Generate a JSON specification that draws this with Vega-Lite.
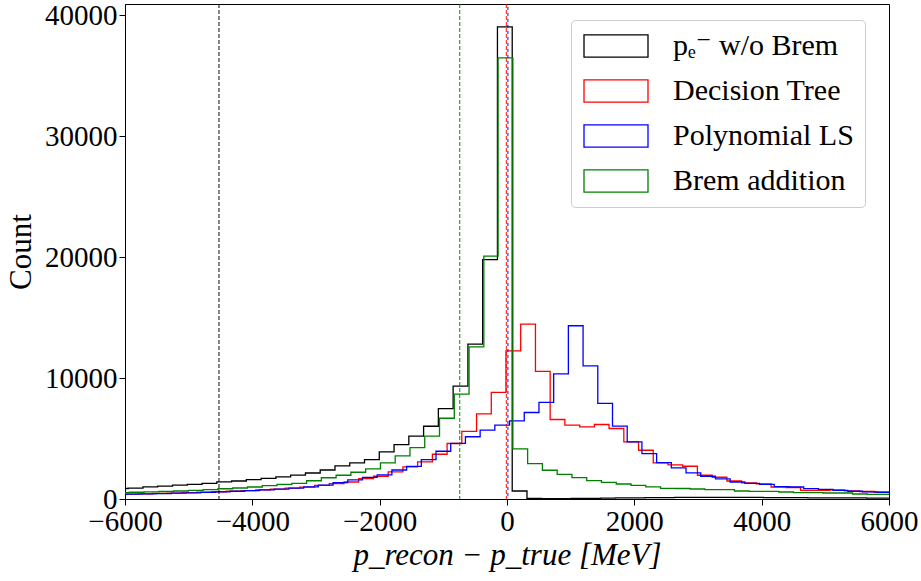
{
  "$schema": "https://vega.github.io/schema/vega-lite/v6.json",
  "width": 764,
  "height": 495,
  "autosize": {"type": "none"},
  "padding": {"left": 125, "top": 4, "right": 32, "bottom": 82},
  "background": "white",
  "config": {
    "view": {"stroke": "black", "strokeWidth": 1},
    "font": "Liberation Serif",
    "axis": {
      "grid": false,
      "domainColor": "black",
      "tickColor": "black",
      "labelColor": "black",
      "titleColor": "black",
      "labelFont": "Liberation Serif",
      "titleFont": "Liberation Serif",
      "labelFontSize": 29,
      "titleFontSize": 31,
      "titleFontWeight": "normal",
      "tickSize": 6
    },
    "legend": {
      "labelFont": "Liberation Serif, DejaVu Serif, serif",
      "labelFontSize": 30,
      "labelColor": "black",
      "labelLimit": 400
    }
  },
  "datasets": {
    "hist": [
      {"series": "pₑ⁻ w/o Brem", "x": -6182, "count": 870},
      {"series": "pₑ⁻ w/o Brem", "x": -5950, "count": 900},
      {"series": "pₑ⁻ w/o Brem", "x": -5718, "count": 1000},
      {"series": "pₑ⁻ w/o Brem", "x": -5486, "count": 1060},
      {"series": "pₑ⁻ w/o Brem", "x": -5254, "count": 1150},
      {"series": "pₑ⁻ w/o Brem", "x": -5022, "count": 1210},
      {"series": "pₑ⁻ w/o Brem", "x": -4790, "count": 1300},
      {"series": "pₑ⁻ w/o Brem", "x": -4558, "count": 1420},
      {"series": "pₑ⁻ w/o Brem", "x": -4326, "count": 1490},
      {"series": "pₑ⁻ w/o Brem", "x": -4094, "count": 1600},
      {"series": "pₑ⁻ w/o Brem", "x": -3862, "count": 1700},
      {"series": "pₑ⁻ w/o Brem", "x": -3630, "count": 1830},
      {"series": "pₑ⁻ w/o Brem", "x": -3398, "count": 1980},
      {"series": "pₑ⁻ w/o Brem", "x": -3166, "count": 2150},
      {"series": "pₑ⁻ w/o Brem", "x": -2934, "count": 2400},
      {"series": "pₑ⁻ w/o Brem", "x": -2702, "count": 2740},
      {"series": "pₑ⁻ w/o Brem", "x": -2470, "count": 2990},
      {"series": "pₑ⁻ w/o Brem", "x": -2238, "count": 3260},
      {"series": "pₑ⁻ w/o Brem", "x": -2006, "count": 3900},
      {"series": "pₑ⁻ w/o Brem", "x": -1774, "count": 4500},
      {"series": "pₑ⁻ w/o Brem", "x": -1542, "count": 5200},
      {"series": "pₑ⁻ w/o Brem", "x": -1310, "count": 6020},
      {"series": "pₑ⁻ w/o Brem", "x": -1078, "count": 7480},
      {"series": "pₑ⁻ w/o Brem", "x": -846, "count": 9340},
      {"series": "pₑ⁻ w/o Brem", "x": -614, "count": 12820},
      {"series": "pₑ⁻ w/o Brem", "x": -382, "count": 19800},
      {"series": "pₑ⁻ w/o Brem", "x": -150, "count": 39050},
      {"series": "pₑ⁻ w/o Brem", "x": 82, "count": 660},
      {"series": "pₑ⁻ w/o Brem", "x": 314, "count": 40},
      {"series": "pₑ⁻ w/o Brem", "x": 546, "count": 20},
      {"series": "pₑ⁻ w/o Brem", "x": 778, "count": 30},
      {"series": "pₑ⁻ w/o Brem", "x": 1010, "count": 50},
      {"series": "pₑ⁻ w/o Brem", "x": 1242, "count": 60},
      {"series": "pₑ⁻ w/o Brem", "x": 1474, "count": 70},
      {"series": "pₑ⁻ w/o Brem", "x": 1706, "count": 90},
      {"series": "pₑ⁻ w/o Brem", "x": 1938, "count": 100},
      {"series": "pₑ⁻ w/o Brem", "x": 2170, "count": 110},
      {"series": "pₑ⁻ w/o Brem", "x": 2402, "count": 120},
      {"series": "pₑ⁻ w/o Brem", "x": 2634, "count": 130},
      {"series": "pₑ⁻ w/o Brem", "x": 2866, "count": 140},
      {"series": "pₑ⁻ w/o Brem", "x": 3098, "count": 140},
      {"series": "pₑ⁻ w/o Brem", "x": 3330, "count": 140},
      {"series": "pₑ⁻ w/o Brem", "x": 3562, "count": 130},
      {"series": "pₑ⁻ w/o Brem", "x": 3794, "count": 130},
      {"series": "pₑ⁻ w/o Brem", "x": 4026, "count": 120},
      {"series": "pₑ⁻ w/o Brem", "x": 4258, "count": 120},
      {"series": "pₑ⁻ w/o Brem", "x": 4490, "count": 110},
      {"series": "pₑ⁻ w/o Brem", "x": 4722, "count": 100},
      {"series": "pₑ⁻ w/o Brem", "x": 4954, "count": 100},
      {"series": "pₑ⁻ w/o Brem", "x": 5186, "count": 90},
      {"series": "pₑ⁻ w/o Brem", "x": 5418, "count": 90},
      {"series": "pₑ⁻ w/o Brem", "x": 5650, "count": 80},
      {"series": "pₑ⁻ w/o Brem", "x": 5882, "count": 80},
      {"series": "pₑ⁻ w/o Brem", "x": 6114, "count": 80},

      {"series": "Decision Tree", "x": -6030, "count": 410},
      {"series": "Decision Tree", "x": -5798, "count": 430},
      {"series": "Decision Tree", "x": -5567, "count": 460},
      {"series": "Decision Tree", "x": -5336, "count": 490},
      {"series": "Decision Tree", "x": -5104, "count": 520},
      {"series": "Decision Tree", "x": -4873, "count": 560},
      {"series": "Decision Tree", "x": -4642, "count": 600},
      {"series": "Decision Tree", "x": -4410, "count": 650},
      {"series": "Decision Tree", "x": -4179, "count": 700},
      {"series": "Decision Tree", "x": -3948, "count": 760},
      {"series": "Decision Tree", "x": -3716, "count": 820},
      {"series": "Decision Tree", "x": -3485, "count": 900},
      {"series": "Decision Tree", "x": -3254, "count": 990},
      {"series": "Decision Tree", "x": -3022, "count": 1120},
      {"series": "Decision Tree", "x": -2791, "count": 1276},
      {"series": "Decision Tree", "x": -2560, "count": 1408},
      {"series": "Decision Tree", "x": -2329, "count": 1690},
      {"series": "Decision Tree", "x": -2097, "count": 1881},
      {"series": "Decision Tree", "x": -1866, "count": 2237},
      {"series": "Decision Tree", "x": -1635, "count": 2651},
      {"series": "Decision Tree", "x": -1404, "count": 3066},
      {"series": "Decision Tree", "x": -1172, "count": 3703},
      {"series": "Decision Tree", "x": -941, "count": 4590},
      {"series": "Decision Tree", "x": -710, "count": 5600},
      {"series": "Decision Tree", "x": -478, "count": 7050},
      {"series": "Decision Tree", "x": -247, "count": 8815},
      {"series": "Decision Tree", "x": -16, "count": 12262},
      {"series": "Decision Tree", "x": 215, "count": 14474},
      {"series": "Decision Tree", "x": 447, "count": 10555},
      {"series": "Decision Tree", "x": 678, "count": 6578},
      {"series": "Decision Tree", "x": 909, "count": 6106},
      {"series": "Decision Tree", "x": 1141, "count": 5965},
      {"series": "Decision Tree", "x": 1372, "count": 6164},
      {"series": "Decision Tree", "x": 1603, "count": 5833},
      {"series": "Decision Tree", "x": 1835, "count": 4722},
      {"series": "Decision Tree", "x": 2066, "count": 4035},
      {"series": "Decision Tree", "x": 2297, "count": 2983},
      {"series": "Decision Tree", "x": 2529, "count": 2820},
      {"series": "Decision Tree", "x": 2760, "count": 2709},
      {"series": "Decision Tree", "x": 2991, "count": 1963},
      {"series": "Decision Tree", "x": 3223, "count": 1800},
      {"series": "Decision Tree", "x": 3454, "count": 1491},
      {"series": "Decision Tree", "x": 3685, "count": 1340},
      {"series": "Decision Tree", "x": 3917, "count": 1250},
      {"series": "Decision Tree", "x": 4148, "count": 994},
      {"series": "Decision Tree", "x": 4379, "count": 950},
      {"series": "Decision Tree", "x": 4611, "count": 720},
      {"series": "Decision Tree", "x": 4842, "count": 720},
      {"series": "Decision Tree", "x": 5073, "count": 760},
      {"series": "Decision Tree", "x": 5305, "count": 670},
      {"series": "Decision Tree", "x": 5536, "count": 620},
      {"series": "Decision Tree", "x": 5767, "count": 560},
      {"series": "Decision Tree", "x": 5998, "count": 520},
      {"series": "Decision Tree", "x": 6229, "count": 520},

      {"series": "Polynomial LS", "x": -6197, "count": 390},
      {"series": "Polynomial LS", "x": -5966, "count": 410},
      {"series": "Polynomial LS", "x": -5735, "count": 430},
      {"series": "Polynomial LS", "x": -5504, "count": 450},
      {"series": "Polynomial LS", "x": -5273, "count": 480},
      {"series": "Polynomial LS", "x": -5042, "count": 510},
      {"series": "Polynomial LS", "x": -4811, "count": 550},
      {"series": "Polynomial LS", "x": -4580, "count": 590},
      {"series": "Polynomial LS", "x": -4349, "count": 640},
      {"series": "Polynomial LS", "x": -4118, "count": 690},
      {"series": "Polynomial LS", "x": -3887, "count": 750},
      {"series": "Polynomial LS", "x": -3656, "count": 820},
      {"series": "Polynomial LS", "x": -3425, "count": 900},
      {"series": "Polynomial LS", "x": -3194, "count": 1000},
      {"series": "Polynomial LS", "x": -2963, "count": 1150},
      {"series": "Polynomial LS", "x": -2732, "count": 1350},
      {"series": "Polynomial LS", "x": -2501, "count": 1580},
      {"series": "Polynomial LS", "x": -2270, "count": 1790},
      {"series": "Polynomial LS", "x": -2039, "count": 2000},
      {"series": "Polynomial LS", "x": -1808, "count": 2400},
      {"series": "Polynomial LS", "x": -1577, "count": 2700},
      {"series": "Polynomial LS", "x": -1346, "count": 3250},
      {"series": "Polynomial LS", "x": -1115, "count": 3950},
      {"series": "Polynomial LS", "x": -884, "count": 4600},
      {"series": "Polynomial LS", "x": -653, "count": 5150},
      {"series": "Polynomial LS", "x": -422, "count": 5692},
      {"series": "Polynomial LS", "x": -191, "count": 6106},
      {"series": "Polynomial LS", "x": 40, "count": 6462},
      {"series": "Polynomial LS", "x": 271, "count": 7158},
      {"series": "Polynomial LS", "x": 502, "count": 7987},
      {"series": "Polynomial LS", "x": 733, "count": 10356},
      {"series": "Polynomial LS", "x": 964, "count": 14333},
      {"series": "Polynomial LS", "x": 1195, "count": 11019},
      {"series": "Polynomial LS", "x": 1426, "count": 7904},
      {"series": "Polynomial LS", "x": 1657, "count": 6023},
      {"series": "Polynomial LS", "x": 1888, "count": 4722},
      {"series": "Polynomial LS", "x": 2119, "count": 3761},
      {"series": "Polynomial LS", "x": 2350, "count": 3016},
      {"series": "Polynomial LS", "x": 2581, "count": 2568},
      {"series": "Polynomial LS", "x": 2812, "count": 2154},
      {"series": "Polynomial LS", "x": 3043, "count": 1881},
      {"series": "Polynomial LS", "x": 3274, "count": 1660},
      {"series": "Polynomial LS", "x": 3505, "count": 1408},
      {"series": "Polynomial LS", "x": 3736, "count": 1300},
      {"series": "Polynomial LS", "x": 3967, "count": 1218},
      {"series": "Polynomial LS", "x": 4198, "count": 1020},
      {"series": "Polynomial LS", "x": 4429, "count": 994},
      {"series": "Polynomial LS", "x": 4660, "count": 860},
      {"series": "Polynomial LS", "x": 4891, "count": 800},
      {"series": "Polynomial LS", "x": 5122, "count": 720},
      {"series": "Polynomial LS", "x": 5353, "count": 640},
      {"series": "Polynomial LS", "x": 5584, "count": 590},
      {"series": "Polynomial LS", "x": 5815, "count": 560},
      {"series": "Polynomial LS", "x": 6046, "count": 560},

      {"series": "Brem addition", "x": -6164, "count": 530},
      {"series": "Brem addition", "x": -5932, "count": 560},
      {"series": "Brem addition", "x": -5700, "count": 590},
      {"series": "Brem addition", "x": -5468, "count": 620},
      {"series": "Brem addition", "x": -5236, "count": 663},
      {"series": "Brem addition", "x": -5004, "count": 720},
      {"series": "Brem addition", "x": -4772, "count": 779},
      {"series": "Brem addition", "x": -4540, "count": 850},
      {"series": "Brem addition", "x": -4308, "count": 911},
      {"series": "Brem addition", "x": -4076, "count": 994},
      {"series": "Brem addition", "x": -3844, "count": 1110},
      {"series": "Brem addition", "x": -3612, "count": 1218},
      {"series": "Brem addition", "x": -3380, "count": 1300},
      {"series": "Brem addition", "x": -3148, "count": 1510},
      {"series": "Brem addition", "x": -2916, "count": 1760},
      {"series": "Brem addition", "x": -2684, "count": 1963},
      {"series": "Brem addition", "x": -2452, "count": 2212},
      {"series": "Brem addition", "x": -2220, "count": 2486},
      {"series": "Brem addition", "x": -1988, "count": 2983},
      {"series": "Brem addition", "x": -1756, "count": 3563},
      {"series": "Brem addition", "x": -1524, "count": 4258},
      {"series": "Brem addition", "x": -1292, "count": 5195},
      {"series": "Brem addition", "x": -1060, "count": 6680},
      {"series": "Brem addition", "x": -828, "count": 8674},
      {"series": "Brem addition", "x": -596, "count": 12593},
      {"series": "Brem addition", "x": -364, "count": 20100},
      {"series": "Brem addition", "x": -140, "count": 36500},
      {"series": "Brem addition", "x": 92, "count": 4143},
      {"series": "Brem addition", "x": 324, "count": 2920},
      {"series": "Brem addition", "x": 556, "count": 2378},
      {"series": "Brem addition", "x": 788, "count": 2030},
      {"series": "Brem addition", "x": 1020, "count": 1771},
      {"series": "Brem addition", "x": 1252, "count": 1524},
      {"series": "Brem addition", "x": 1484, "count": 1370},
      {"series": "Brem addition", "x": 1716, "count": 1243},
      {"series": "Brem addition", "x": 1948, "count": 1120},
      {"series": "Brem addition", "x": 2180, "count": 1000},
      {"series": "Brem addition", "x": 2412, "count": 880},
      {"series": "Brem addition", "x": 2644, "count": 870},
      {"series": "Brem addition", "x": 2876, "count": 828},
      {"series": "Brem addition", "x": 3108, "count": 779},
      {"series": "Brem addition", "x": 3340, "count": 779},
      {"series": "Brem addition", "x": 3572, "count": 663},
      {"series": "Brem addition", "x": 3804, "count": 638},
      {"series": "Brem addition", "x": 4036, "count": 638},
      {"series": "Brem addition", "x": 4268, "count": 580},
      {"series": "Brem addition", "x": 4500, "count": 530},
      {"series": "Brem addition", "x": 4732, "count": 530},
      {"series": "Brem addition", "x": 4964, "count": 497},
      {"series": "Brem addition", "x": 5196, "count": 497},
      {"series": "Brem addition", "x": 5428, "count": 414},
      {"series": "Brem addition", "x": 5660, "count": 390},
      {"series": "Brem addition", "x": 5892, "count": 390},
      {"series": "Brem addition", "x": 6124, "count": 390}
    ],
    "means": [
      {"series": "pₑ⁻ w/o Brem", "mean": -4524},
      {"series": "Brem addition", "mean": -743},
      {"series": "Decision Tree", "mean": -10},
      {"series": "Polynomial LS", "mean": 14}
    ]
  },
  "layer": [
    {
      "data": {"name": "hist"},
      "mark": {"type": "line", "interpolate": "step-after", "strokeWidth": 1.3, "clip": true},
      "encoding": {
        "x": {
          "field": "x", "type": "quantitative",
          "scale": {"domain": [-6000, 6000], "nice": false},
          "axis": {
            "values": [-6000, -4000, -2000, 0, 2000, 4000, 6000],
            "format": "d",
            "title": "p_recon − p_true [MeV]",
            "titleFontStyle": "italic",
            "labelPadding": 2,
            "titlePadding": 4,
            "labelFlush": false
          }
        },
        "y": {
          "field": "count", "type": "quantitative",
          "scale": {"domain": [0, 40950], "nice": false},
          "axis": {
            "values": [0, 10000, 20000, 30000, 40000],
            "format": "d",
            "title": "Count",
            "labelPadding": 2,
            "titlePadding": 7
          }
        },
        "color": {
          "field": "series", "type": "nominal",
          "scale": {
            "domain": ["pₑ⁻ w/o Brem", "Decision Tree", "Polynomial LS", "Brem addition"],
            "range": ["#000000", "#ff0000", "#0000ff", "#008000"]
          },
          "legend": {
            "title": null,
            "orient": "none",
            "legendX": 446,
            "legendY": 16,
            "padding": 11,
            "rowPadding": 15,
            "symbolType": "M-1.083,-0.933H4.25V0.933H-1.083Z",
            "symbolSize": 576,
            "symbolStrokeWidth": 1.3,
            "symbolFillColor": "transparent",
            "labelOffset": 61,
            "labelLimit": 400,
            "fillColor": "rgba(255,255,255,0.8)",
            "strokeColor": "#cccccc",
            "cornerRadius": 4
          }
        }
      }
    },
    {
      "data": {"name": "means"},
      "transform": [{"filter": "datum.series !== 'Polynomial LS'"}],
      "mark": {"type": "rule", "strokeDash": [4, 2], "strokeWidth": 1.2, "opacity": 0.8, "clip": true},
      "encoding": {
        "x": {"field": "mean", "type": "quantitative", "scale": {"domain": [-6000, 6000], "nice": false}},
        "color": {"field": "series", "type": "nominal", "legend": null}
      }
    },
    {
      "data": {"name": "means"},
      "transform": [{"filter": "datum.series === 'Polynomial LS'"}],
      "mark": {"type": "rule", "strokeDash": [3, 3], "strokeDashOffset": 3, "strokeWidth": 1.2, "opacity": 0.8, "clip": true},
      "encoding": {
        "x": {"field": "mean", "type": "quantitative", "scale": {"domain": [-6000, 6000], "nice": false}},
        "color": {"field": "series", "type": "nominal", "legend": null}
      }
    }
  ],
  "resolve": {"legend": {"color": "independent"}}
}
